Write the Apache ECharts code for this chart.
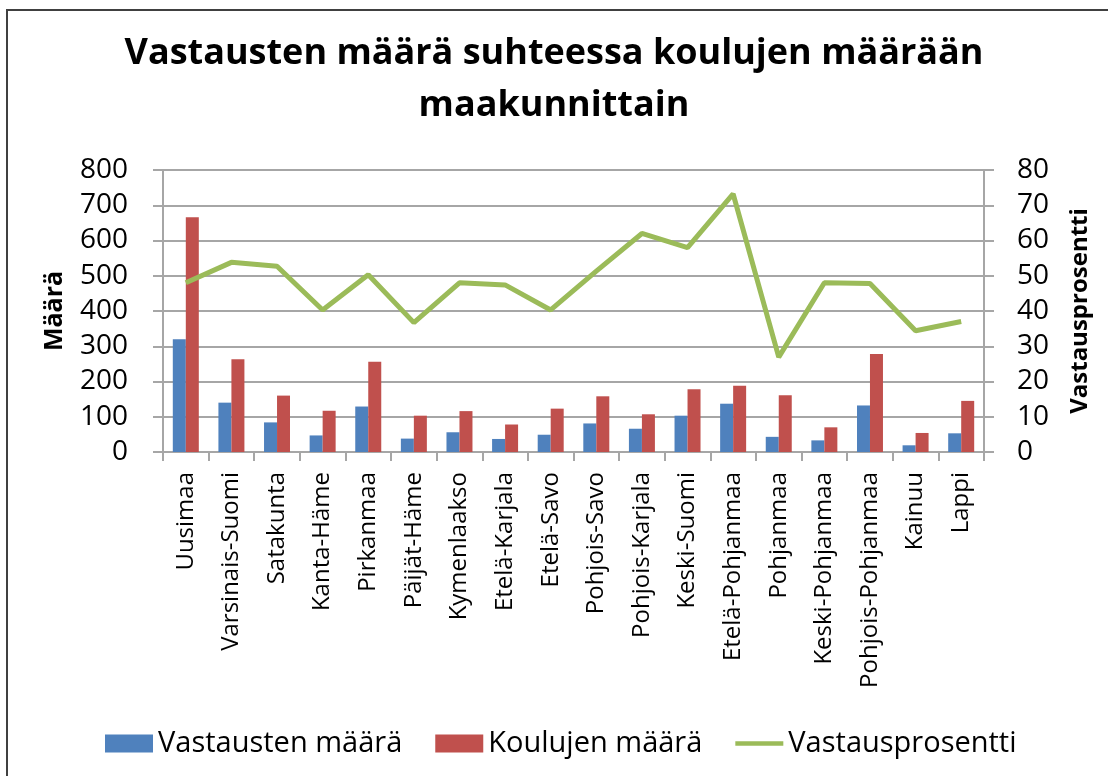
<!DOCTYPE html>
<html>
<head>
    <meta charset="utf-8">
    <title>Vastausten määrä</title>
    <script src="https://cdn.jsdelivr.net/npm/echarts@6/dist/echarts.min.js"></script>
    <style type="text/css">
        html, body {margin:0; padding:0; background-color:#fff; overflow:hidden;}
    </style>
</head>
<body>
<div id="container" style="width:1108px;height:776px;"></div>

<script type="text/javascript">
    // maakunnat
    var maakunnat = ['Uusimaa', 'Varsinais-Suomi', 'Satakunta', 'Kanta-Häme', 'Pirkanmaa',
        'Päijät-Häme', 'Kymenlaakso', 'Etelä-Karjala', 'Etelä-Savo', 'Pohjois-Savo',
        'Pohjois-Karjala', 'Keski-Suomi', 'Etelä-Pohjanmaa', 'Pohjanmaa', 'Keski-Pohjanmaa',
        'Pohjois-Pohjanmaa', 'Kainuu', 'Lappi'];
    var vastaukset = [320, 140, 84, 47, 129, 38, 56, 37, 49, 81, 66, 103, 137, 43, 33, 132, 19, 53];
    var koulut = [666, 263, 160, 117, 256, 103, 116, 78, 123, 158, 107, 178, 188, 161, 70, 278, 54, 145];
    var prosentti = [48.0, 53.8, 52.7, 40.3, 50.3, 36.7, 48.0, 47.4, 40.3, 51.3, 62.0, 58.0, 73.2, 26.9, 48.0, 47.8, 34.4, 37.0];

    var font = 'Open Sans';
    var gridColor = '#a6a6a6';

    var myChart = echarts.init(document.getElementById('container'));

    var option = {
        backgroundColor: '#fff',
        animation: false,
        textStyle: {fontFamily: font, color: '#000'},
        title: {
            text: 'Vastausten määrä suhteessa koulujen määrään\nmaakunnittain',
            left: 'center',
            top: 23,
            padding: [5, 0, 5, 20],
            textStyle: {fontFamily: font, fontSize: 36, fontWeight: 'bold', color: '#000', lineHeight: 52}
        },
        // kehys vasemmalla ja ylhäällä
        graphic: [{
            type: 'polyline',
            shape: {points: [[7, 800], [7, 10], [1120, 10]]},
            style: {stroke: '#404040', lineWidth: 2, fill: null}
        }],
        legend: {
            left: 100,
            top: 724,
            itemGap: 33,
            itemWidth: 48,
            itemHeight: 18,
            textStyle: {fontFamily: font, fontSize: 29, color: '#000'},
            data: [
                {name: 'Vastausten määrä', icon: 'rect'},
                {name: 'Koulujen määrä', icon: 'rect'},
                {name: 'Vastausprosentti', icon: 'path://M0,0 L56,0 L56,5 L0,5 Z'}
            ]
        },
        grid: {left: 163, right: 124, top: 170, bottom: 324},
        xAxis: {
            type: 'category',
            data: maakunnat,
            axisLine: {lineStyle: {color: gridColor, width: 2}},
            axisTick: {show: true, length: 9, lineStyle: {color: gridColor, width: 2}},
            axisLabel: {rotate: 90, interval: 0, fontSize: 24, margin: 20, color: '#000', fontFamily: font}
        },
        yAxis: [{
            type: 'value',
            min: 0, max: 800, interval: 100,
            name: 'Määrä',
            nameLocation: 'middle',
            nameRotate: 90,
            nameGap: 96,
            nameTextStyle: {fontFamily: font, fontSize: 25, fontWeight: 'bold', color: '#000'},
            axisLine: {show: true, lineStyle: {color: gridColor, width: 2}},
            axisTick: {show: true, length: 10, lineStyle: {color: gridColor, width: 2}},
            axisLabel: {fontSize: 28, margin: 35, color: '#000', fontFamily: font},
            splitLine: {show: true, lineStyle: {color: gridColor, width: 2}}
        }, {
            type: 'value',
            min: 0, max: 80, interval: 10,
            name: 'Vastausprosentti',
            nameLocation: 'middle',
            nameRotate: 90,
            nameGap: 84,
            nameTextStyle: {fontFamily: font, fontSize: 24, fontWeight: 'bold', color: '#000'},
            axisLine: {show: true, lineStyle: {color: gridColor, width: 2}},
            axisTick: {show: true, length: 10, lineStyle: {color: gridColor, width: 2}},
            axisLabel: {fontSize: 28, margin: 33, color: '#000', fontFamily: font},
            splitLine: {show: false}
        }],
        series: [{
            name: 'Vastausten määrä',
            type: 'bar',
            data: vastaukset,
            barWidth: 13,
            barGap: '0%',
            itemStyle: {color: '#4f81bd'}
        }, {
            name: 'Koulujen määrä',
            type: 'bar',
            data: koulut,
            barWidth: 13,
            barGap: '0%',
            itemStyle: {color: '#c0504d'}
        }, {
            name: 'Vastausprosentti',
            type: 'line',
            yAxisIndex: 1,
            data: prosentti,
            symbol: 'none',
            z: 5,
            lineStyle: {color: '#9bbb59', width: 5},
            itemStyle: {color: '#9bbb59'}
        }]
    };

    myChart.setOption(option);
</script>
</body>
</html>
